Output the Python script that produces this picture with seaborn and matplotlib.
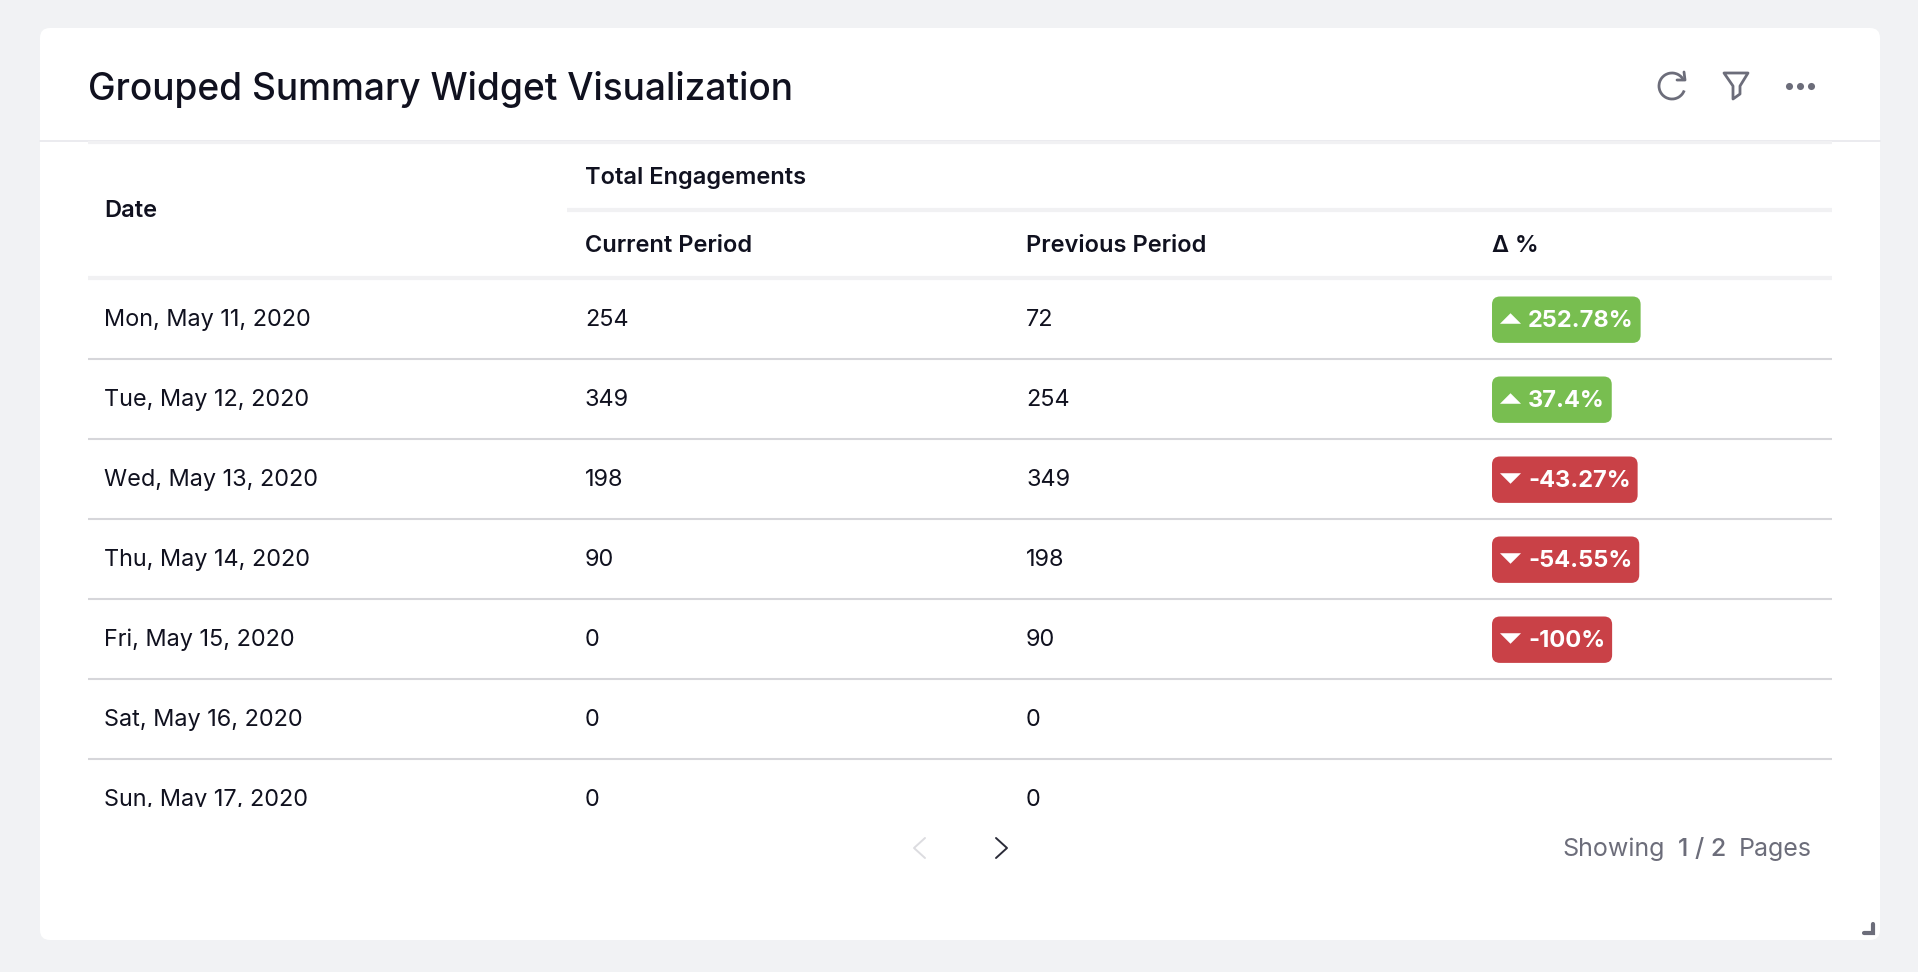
import matplotlib
matplotlib.use("Agg")
import matplotlib.pyplot as plt
import pandas as pd
import seaborn as sns
from matplotlib.patches import Arc, FancyBboxPatch, Polygon

W, H = 1918, 972

title = "Grouped Summary Widget Visualization"
group_label = "Total Engagements"
col_labels = ["Date", "Current Period", "Previous Period", "Δ %"]
dates = ["Mon, May 11, 2020", "Tue, May 12, 2020", "Wed, May 13, 2020", "Thu, May 14, 2020",
         "Fri, May 15, 2020", "Sat, May 16, 2020", "Sun, May 17, 2020"]
current = [254, 349, 198, 90, 0, 0, 0]
previous = [72, 254, 349, 198, 90, 0, 0]
delta_pct = [252.78, 37.4, -43.27, -54.55, -100, None, None]

BG = "#f1f2f4"
INK = "#10111f"
GREY = "#6c6d7a"
GREEN = "#78be50"
RED = "#c94147"
SOFT_LINE = "#f1f1f3"
ROW_LINE = "#d6d6da"

sns.set_theme(style="white")
plt.rcParams["font.family"] = ["Inter", "DejaVu Sans"]

df = pd.DataFrame({"date": dates, "current": current, "previous": previous, "delta": delta_pct})
df["row"] = df.index

fig = plt.figure(figsize=(W / 100, H / 100), dpi=100, facecolor=BG)

# card and everything outside the table, in pixel coordinates
bg = fig.add_axes([0, 0, 1, 1])
bg.set_xlim(0, W)
bg.set_ylim(H, 0)
bg.axis("off")
bg.add_patch(FancyBboxPatch((48, 36), 1824, 896, boxstyle="round,pad=8,rounding_size=10",
                            fc="white", ec="none"))
bg.plot([40, 1880], [141, 141], color="#ebebef", lw=1.4)
bg.text(88, 90, title, fontsize=26.7, color=INK, va="center", fontweight="medium")

# refresh icon
bg.add_patch(Arc((1672, 86), 26, 26, theta1=20, theta2=335, color=GREY, lw=2))
bg.plot([1684, 1685, 1677], [72, 80, 80], color=GREY, lw=2, solid_capstyle="round")
# filter icon
bg.add_patch(Polygon([(1724, 73), (1748, 73), (1740, 86), (1740, 94), (1733, 99), (1733, 86)],
                     closed=True, fc="none", ec=GREY, lw=2, joinstyle="round"))
# menu dots
sns.scatterplot(x=[1789, 1800, 1811], y=[86, 86, 86], color=GREY, s=26, linewidth=0, ax=bg)

# pager
bg.plot([925, 914, 925], [838, 848, 858], color="#dcdce0", lw=1.4)
bg.plot([996, 1007, 996], [838, 848, 858], color="#2a2b38", lw=1.4)
bg.text(1562, 849, "Showing", fontsize=18, color=GREY, va="center")
bg.text(1678, 849, "1 / 2", fontsize=18, color=GREY, va="center", fontweight="medium")
bg.text(1739, 849, "Pages", fontsize=18, color=GREY, va="center")
bg.plot([1873, 1873, 1864], [924, 933, 933], color=GREY, lw=3, solid_joinstyle="miter")

# table axes: x stays in pixels, y is in rows, the bottom edge cuts the last row
TABLE_TOP, TABLE_BOTTOM = 141, 807
ax = fig.add_axes([88 / W, 1 - TABLE_BOTTOM / H, (1832 - 88) / W, (TABLE_BOTTOM - TABLE_TOP) / H])
ylim = ((TABLE_BOTTOM - 318.5) / 80, (TABLE_TOP - 318.5) / 80)
ax.set_xlim(88, 1832)
ax.set_ylim(ylim)
ax.axis("off")
ax.patch.set_visible(False)

x_date, x_cur, x_prev, x_delta = 104, 585, 1026, 1492
header_size = 17
body_size = 16.9

ax.hlines(-2.2, 88, 1832, color=SOFT_LINE, lw=3)
ax.hlines(-1.355, 567, 1832, color=SOFT_LINE, lw=3)
ax.hlines(-0.505, 88, 1832, color=SOFT_LINE, lw=3)
ax.hlines(df["row"].iloc[:-1] + 0.508, 88, 1832, color=ROW_LINE, lw=1.5)

ax.text(x_date, -1.34, col_labels[0], fontsize=header_size, color=INK,
        va="center", fontweight="semibold")
ax.text(x_cur, -1.76, group_label, fontsize=header_size, color=INK,
        va="center", fontweight="semibold")
for x, label in zip([x_cur, x_prev, x_delta], col_labels[1:]):
    ax.text(x, -0.91, label, fontsize=header_size, color=INK, va="center", fontweight="semibold")

for row in df.itertuples():
    y = row.row + 0.015
    ax.text(x_date, y, row.date, fontsize=body_size, color=INK, va="center", clip_on=True)
    ax.text(x_cur, y, str(row.current), fontsize=body_size, color=INK, va="center", clip_on=True)
    ax.text(x_prev, y, str(row.previous), fontsize=body_size, color=INK, va="center", clip_on=True)

# delta badges, sized from the rendered text
renderer = fig.canvas.get_renderer()
for row in df.dropna(subset=["delta"]).itertuples():
    t = ax.text(x_delta + 36, row.row + 0.035, f"{row.delta:g}%", fontsize=17, color="white",
                va="center", fontweight="bold", zorder=5)
    width = t.get_window_extent(renderer).width + 36 + 7
    ax.add_patch(FancyBboxPatch((x_delta, row.row + 0.015 - 0.29), width, 0.58,
                                boxstyle="round,pad=0,rounding_size=8", mutation_aspect=1 / 80,
                                fc=GREEN if row.delta > 0 else RED, ec="none", zorder=1))

up = df[df["delta"] > 0]
down = df[df["delta"] < 0]
tri_up = [(-1, -0.5), (1, -0.5), (0, 0.5)]
tri_down = [(-1, 0.5), (1, 0.5), (0, -0.5)]
sns.scatterplot(x=[x_delta + 18] * len(up), y=up["row"] + 0.0, marker=tri_up, color="white",
                s=230, linewidth=0, zorder=6, ax=ax)
sns.scatterplot(x=[x_delta + 18] * len(down), y=down["row"] + 0.0, marker=tri_down, color="white",
                s=230, linewidth=0, zorder=6, ax=ax)

ax.set_xlim(88, 1832)
ax.set_ylim(ylim)

fig.savefig("out.png", dpi=100, facecolor=BG)
